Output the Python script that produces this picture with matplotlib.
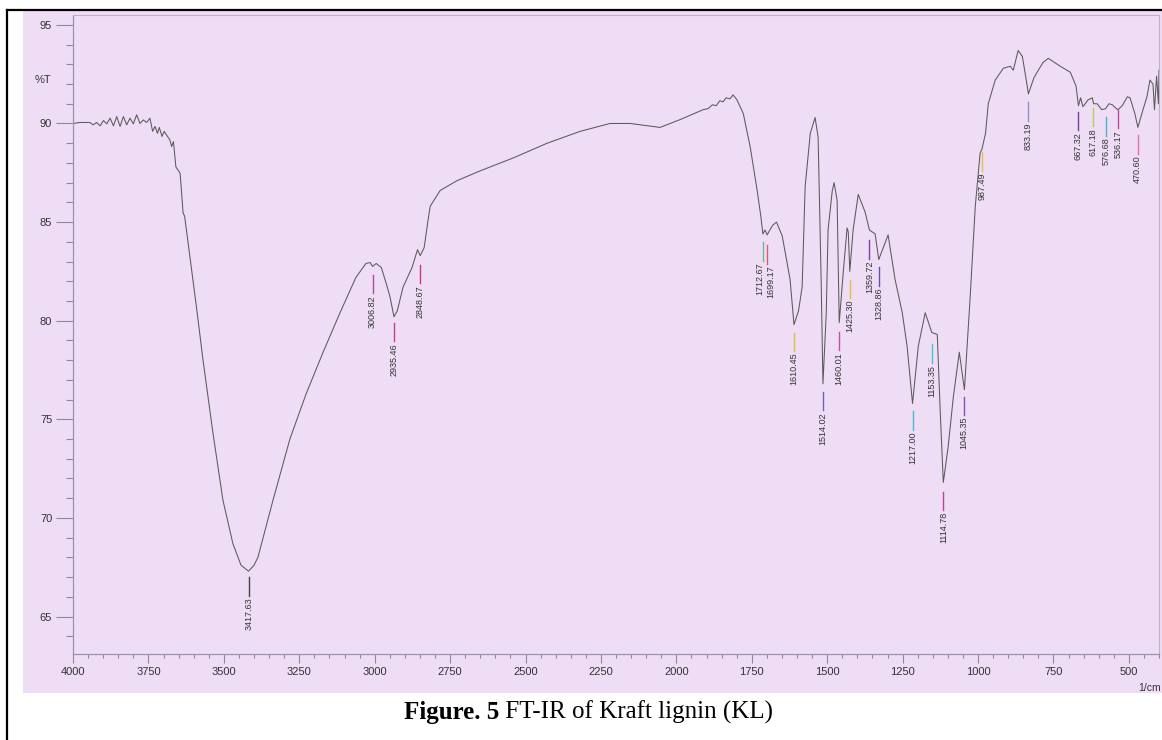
import matplotlib
matplotlib.use("Agg")
import matplotlib.pyplot as plt
from matplotlib.ticker import MultipleLocator
from matplotlib.patches import Rectangle
from matplotlib.lines import Line2D
from matplotlib.transforms import offset_copy

plt.rcParams["font.family"] = ["Liberation Sans", "DejaVu Sans"]

# FT-IR spectrum of Kraft lignin: wavenumber (1/cm) and transmittance (%T)
wavenumber = [
    4000, 3977, 3944, 3933, 3922, 3910, 3899, 3888, 3877, 3866, 3855, 3844,
    3833, 3822, 3811, 3800, 3789, 3778, 3767, 3756, 3745, 3736, 3728, 3720,
    3714, 3705, 3698, 3690, 3679, 3673, 3667, 3659, 3645, 3635, 3630, 3612,
    3590, 3569, 3536, 3503, 3470, 3443, 3418, 3400, 3387, 3337, 3281, 3227,
    3171, 3115, 3062, 3029, 3015, 3007, 2995, 2978, 2960, 2949, 2936, 2925,
    2906, 2876, 2858, 2849, 2836, 2823, 2816, 2783, 2727, 2650, 2541, 2428,
    2319, 2220, 2153, 2054, 1987, 1911, 1895, 1880, 1868, 1856, 1845, 1835,
    1822, 1812, 1799, 1778, 1755,
    1732, 1720, 1713, 1706, 1699, 1690, 1680, 1668, 1649, 1623, 1610, 1595,
    1583, 1573, 1556, 1540, 1530, 1520, 1514, 1503, 1497, 1483, 1477, 1467,
    1460, 1447, 1434, 1430, 1425, 1414, 1397, 1374, 1360, 1341, 1329, 1298,
    1275, 1251, 1235, 1217, 1198, 1175, 1153, 1135, 1125, 1115, 1099, 1082,
    1062, 1045, 1026, 1009, 993, 987, 975, 966, 943, 916, 893, 883, 867, 853,
    840, 833, 815, 804, 784, 767, 727, 694, 675, 667, 660, 652, 635, 621,
    617, 605, 590, 577, 566, 555, 545, 536, 522, 505, 496, 480, 470, 455,
    440, 430, 420, 415, 408, 402, 400,
]
transmittance = [
    90.00, 90.05, 90.05, 89.93, 90.05, 89.88, 90.15, 89.98, 90.27, 89.88, 90.35, 89.85,
    90.35, 89.93, 90.27, 89.98, 90.44, 90.00, 90.18, 90.05, 90.27, 89.60, 89.85, 89.50,
    89.80, 89.34, 89.60, 89.42, 89.17, 88.83, 89.08, 87.80, 87.48, 85.46, 85.30, 83.20,
    80.60, 78.00, 74.30, 70.90, 68.70, 67.60, 67.30, 67.60, 68.00, 70.90, 74.00, 76.30,
    78.40, 80.40, 82.20, 82.90, 82.95, 82.75, 82.90, 82.70, 81.80, 81.20, 80.20, 80.50,
    81.70, 82.70, 83.60, 83.30, 83.70, 85.10, 85.80, 86.60, 87.10, 87.60, 88.25, 89.00,
    89.60, 90.00, 90.00, 89.80, 90.20, 90.70, 90.75, 90.95, 90.90, 91.15, 91.10, 91.30,
    91.25, 91.45, 91.20, 90.50, 88.80,
    86.60, 85.30, 84.40, 84.60, 84.35, 84.60, 84.85, 85.00, 84.30, 82.10, 79.80, 80.50,
    81.70, 86.80, 89.50, 90.30, 89.30, 82.10, 76.80, 80.40, 84.60, 86.60, 87.00, 86.10,
    79.90, 82.40, 84.70, 84.50, 82.50, 84.60, 86.40, 85.50, 84.60, 84.40, 83.10, 84.35,
    82.10, 80.40, 78.70, 75.80, 78.70, 80.40, 79.40, 79.30, 75.30, 71.80, 73.60, 76.10,
    78.40, 76.50, 81.20, 85.80, 88.50, 88.70, 89.50, 91.00, 92.20, 92.80, 92.90, 92.70, 93.70, 93.40,
    92.20, 91.50, 92.30, 92.60, 93.10, 93.30, 92.90, 92.60, 91.90, 90.90, 91.30, 90.85, 91.20, 91.30,
    91.00, 91.00, 90.70, 90.75, 91.00, 90.95, 90.80, 90.70, 90.90, 91.35, 91.30, 90.50, 89.80, 90.60,
    91.35, 92.20, 92.00, 90.70, 92.40, 91.00, 92.70,
]

# Labelled band positions and the %T at the top of each marker line
peak_positions = [
    3417.63, 3006.82, 2935.46, 2848.67, 1712.67, 1699.17, 1610.45, 1514.02,
    1460.01, 1425.30, 1359.72, 1328.86, 1217.00, 1153.35, 1114.78, 1045.35,
    987.49, 833.19, 667.32, 617.18, 576.68, 536.17, 470.60,
]
marker_tops = [
    67.00, 82.33, 79.90, 82.84, 84.00, 83.85, 79.40, 76.40,
    79.44, 82.08, 84.10, 82.70, 75.40, 78.80, 71.33, 76.15,
    88.56, 91.10, 90.60, 90.80, 90.34, 90.70, 89.40,
]
marker_colors = [
    "#444444", "#b04aa0", "#c0408a", "#c83c6a", "#5cc08c", "#e05a6a", "#d8c040", "#7060c0",
    "#c050a0", "#e0c040", "#8040a0", "#6050b0", "#40c0c8", "#40c8d0", "#c040a0", "#8050b8",
    "#e0c050", "#9090d0", "#7040a0", "#b0d050", "#40b8c8", "#c04890", "#e070b0",
]
# horizontal nudge (points) for crowded labels
label_nudge = {1712.67: -2.4, 1699.17: 2.4}

W, H = 1162, 740
fig = plt.figure(figsize=(W / 100, H / 100), dpi=100)
fig.patch.set_facecolor("white")

# paper background and page border
fig.add_artist(Rectangle((23 / W, 1 - 693 / H), 1 - 23 / W, (693 - 11) / H,
                         transform=fig.transFigure, facecolor="#efddf5",
                         edgecolor="none", zorder=-5))
fig.add_artist(Line2D([7 / W, 7 / W], [0, 1 - 10 / H], transform=fig.transFigure,
                      color="black", lw=1.6))
fig.add_artist(Line2D([7 / W, 1], [1 - 10 / H, 1 - 10 / H], transform=fig.transFigure,
                      color="black", lw=1.6))

ax = fig.add_axes([73 / W, 1 - 654 / H, 1086 / W, 639 / H])
ax.patch.set_alpha(0)
ax.set_xlim(4000, 400)
ax.set_ylim(63.1, 95.5)

ax.plot(wavenumber, transmittance, color="#5a5a5a", lw=0.75)

# band markers with rotated wavenumber labels
seg = 0.95
for pos, top, col in zip(peak_positions, marker_tops, marker_colors):
    ax.plot([pos, pos], [top, top - seg], color=col, lw=1.0)
    tr = offset_copy(ax.transData, fig=fig, x=label_nudge.get(pos, 0.0), y=0, units="points")
    ax.text(pos, top - seg - 0.08, f"{pos:.2f}", rotation=90, ha="center",
            va="top", fontsize=6.5, color="#333333", transform=tr)

for side in ["left", "bottom"]:
    ax.spines[side].set_color("#9a90b0")
    ax.spines[side].set_linewidth(0.9)
for side in ["top", "right"]:
    ax.spines[side].set_color("#c0b0c8")
    ax.spines[side].set_linewidth(0.8)

ax.xaxis.set_major_locator(MultipleLocator(250))
ax.xaxis.set_minor_locator(MultipleLocator(50))
ax.yaxis.set_major_locator(MultipleLocator(5))
ax.yaxis.set_minor_locator(MultipleLocator(1))

ax.tick_params(axis="both", which="both", direction="out", color="#8a8a9a",
               labelcolor="#333333", labelsize=8, width=0.8)
ax.tick_params(axis="y", which="major", length=12, pad=3)
ax.tick_params(axis="y", which="minor", length=5)
ax.tick_params(axis="x", which="major", length=6.5, pad=3)
ax.tick_params(axis="x", which="minor", length=3.2)

tick_palette = ["#8a8a9a", "#e8a0c8", "#f0c878", "#78c8d8", "#b088d0", "#8a8a9a"]
for i, t in enumerate(ax.xaxis.get_minor_ticks()):
    t.tick1line.set_color(tick_palette[i % len(tick_palette)])
for i, t in enumerate(ax.xaxis.get_major_ticks()):
    t.tick1line.set_color(tick_palette[(i * 2 + 3) % len(tick_palette)])

fig.text(43 / W, 1 - 80 / H, "%T", ha="center", va="center", fontsize=8, color="#333333")
fig.text(1150 / W, 1 - 688 / H, "1/cm", ha="center", va="center", fontsize=7.5, color="#333333")

# caption: bold figure number followed by regular title
cap_y = 1 - 712 / H
t1 = fig.text(404 / W, cap_y, "Figure. 5", ha="left", va="center", fontsize=18,
              family="Liberation Serif", weight="bold")
fig.canvas.draw()
bb = t1.get_window_extent()
fig.text(bb.x1 / W, cap_y, " FT-IR of Kraft lignin (KL)", ha="left", va="center",
         fontsize=18, family="Liberation Serif")

fig.savefig("out.png", dpi=100, facecolor="white")
